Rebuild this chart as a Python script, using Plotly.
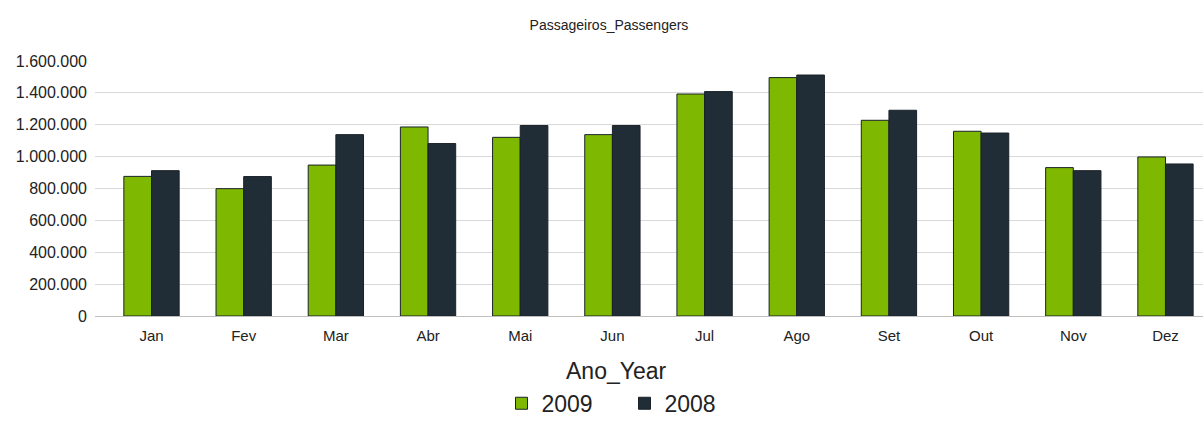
import plotly.graph_objects as go

months = ["Jan", "Fev", "Mar", "Abr", "Mai", "Jun", "Jul", "Ago", "Set", "Out", "Nov", "Dez"]
pax_2009 = [876000, 799000, 947000, 1186000, 1121000, 1138000, 1393000, 1496000, 1228000, 1159000, 931000, 998000]
pax_2008 = [912000, 875000, 1138000, 1082000, 1195000, 1195000, 1408000, 1512000, 1291000, 1148000, 912000, 954000]
y_ticks = [0, 200000, 400000, 600000, 800000, 1000000, 1200000, 1400000, 1600000]

GREEN = "#7fb800"
DARK = "#212d36"
FONT = "Liberation Sans, Arial, sans-serif"

fig = go.Figure()
fig.add_trace(go.Bar(name="2009", x=months, y=pax_2009,
                     marker=dict(color=GREEN, line=dict(color="#1a2228", width=1))))
fig.add_trace(go.Bar(name="2008", x=months, y=pax_2008,
                     marker=dict(color=DARK, line=dict(color="#1a2228", width=1))))

W, H = 1203, 421
top, bottom = 60.7, 315.7
left, right = 95, 1203

fig.update_layout(
    width=W, height=H,
    margin=dict(l=left, r=W - right, t=top, b=H - bottom, pad=0, autoexpand=False),
    paper_bgcolor="white", plot_bgcolor="white",
    font=dict(family=FONT, color="#222222", size=13),
    separators=",.",
    barmode="group", bargap=0.4, bargroupgap=0,
    title=dict(text="Passageiros_Passengers", x=609 / W, xanchor="center",
               xref="container", yref="container", y=1 - 25 / H, yanchor="middle",
               font=dict(size=14, color="#222222")),
    showlegend=True,
    legend=dict(orientation="h", x=(624.5 - left) / (right - left), xanchor="center",
                xref="paper", yref="paper",
                y=(bottom - 403) / (bottom - top), yanchor="middle",
                font=dict(size=23, color="#222222"),
                entrywidth=78, entrywidthmode="pixels",
                traceorder="normal"),
    xaxis=dict(range=[-0.613, 11.407], showgrid=False, showline=False,
               ticks="", ticklabelstandoff=9,
               tickfont=dict(size=15, color="#222222")),
    yaxis=dict(range=[0, 1600000], tickvals=y_ticks, tickformat=",d",
               showgrid=True, gridcolor="#d9d9d9", gridwidth=1,
               zeroline=True, zerolinecolor="#bfbfbf", zerolinewidth=1,
               showline=False, ticks="", ticklabelstandoff=7,
               tickfont=dict(size=16, color="#222222")),
)

fig.add_annotation(text="Ano_Year", xref="paper", yref="paper",
                   x=(616.5 - left) / (right - left), y=(bottom - 371) / (bottom - top),
                   showarrow=False, font=dict(size=23, color="#222222"),
                   xanchor="center", yanchor="middle")

fig.write_html("out.html")
